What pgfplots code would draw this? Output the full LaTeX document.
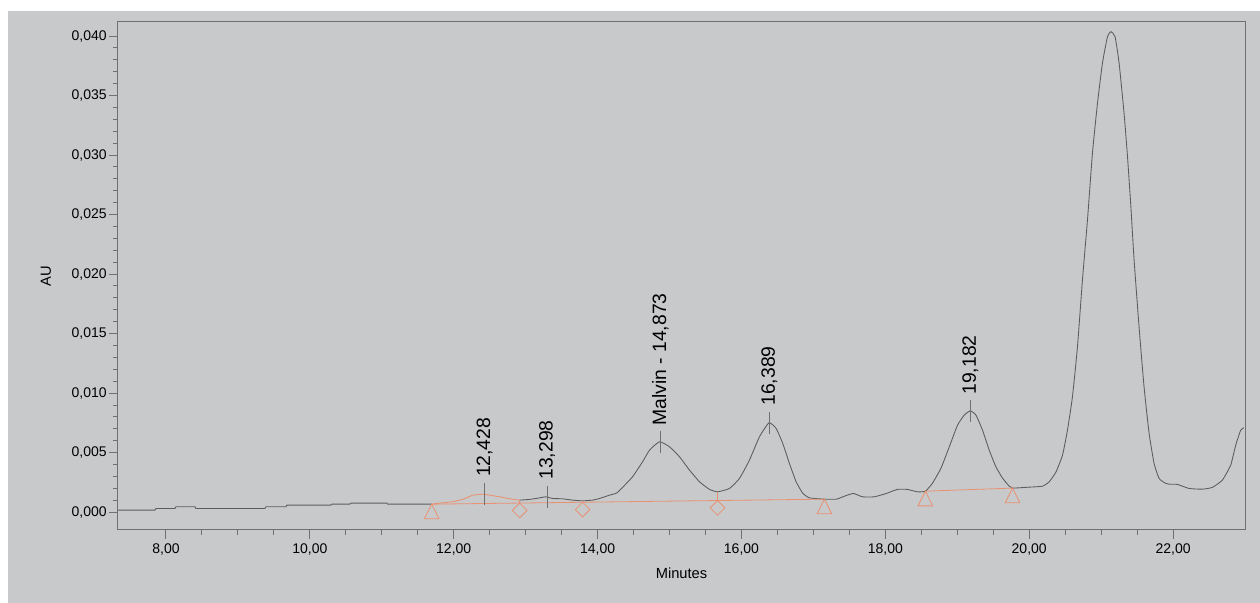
\documentclass[border=0pt]{standalone}
\usepackage{fontspec}
\setmainfont{Liberation Sans}
\usepackage{pgfplots}
\usepackage{pgfplotstable}
\pgfplotsset{compat=1.18}
\definecolor{bg}{RGB}{200,201,203}
\definecolor{curve}{RGB}{92,92,92}
\definecolor{frame}{RGB}{112,112,112}
\definecolor{orng}{RGB}{232,145,115}

\pgfdeclareplotmark{tridown}{%
  \pgfpathmoveto{\pgfqpoint{0pt}{0pt}}%
  \pgfpathlineto{\pgfqpoint{-5.5pt}{-11pt}}%
  \pgfpathlineto{\pgfqpoint{5.5pt}{-11pt}}%
  \pgfpathclose
  \pgfusepathqstroke}
\pgfdeclareplotmark{diadown}{%
  \pgfpathmoveto{\pgfqpoint{0pt}{0pt}}%
  \pgfpathlineto{\pgfqpoint{-5.5pt}{-5.5pt}}%
  \pgfpathlineto{\pgfqpoint{0pt}{-11pt}}%
  \pgfpathlineto{\pgfqpoint{5.5pt}{-5.5pt}}%
  \pgfpathclose
  \pgfusepathqstroke}

\pgfplotstableread{
x y
7.333 0.00017
7.847 0.00017
7.861 0.00031
8.125 0.00031
8.139 0.00045
8.403 0.00045
8.417 0.00031
9.375 0.00031
9.389 0.00045
9.667 0.00045
9.681 0.00059
10.292 0.00059
10.306 0.00067
10.556 0.00067
10.569 0.00076
11.069 0.00076
11.083 0.00067
11.694 0.00067
}\curveA

\pgfplotstableread{
x y
11.694 0.00067
11.806 0.00076
11.903 0.00082
11.986 0.00087
12.125 0.00107
12.264 0.00143
12.403 0.00151
12.500 0.00143
12.639 0.00129
12.778 0.00112
12.917 0.00101
}\bump

\pgfplotstableread{
x y
12.917 0.00101
13.056 0.00107
13.194 0.00120
13.278 0.00129
13.375 0.00115
13.514 0.00112
13.653 0.00101
13.792 0.00095
13.931 0.00101
14.028 0.00115
14.167 0.00143
14.264 0.00160
14.347 0.00208
14.486 0.00297
14.625 0.00423
14.722 0.00521
14.861 0.00591
15.000 0.00549
15.139 0.00465
15.278 0.00353
15.417 0.00255
15.556 0.00191
15.667 0.00171
15.833 0.00199
15.972 0.00283
16.111 0.00437
16.250 0.00633
16.382 0.00750
16.482 0.00703
16.574 0.00577
16.667 0.00409
16.760 0.00255
16.851 0.00160
16.944 0.00120
17.153 0.00109
17.319 0.00109
17.431 0.00134
17.556 0.00157
17.681 0.00129
17.847 0.00129
18.014 0.00157
18.167 0.00191
18.306 0.00191
18.444 0.00171
18.556 0.00176
18.653 0.00241
18.774 0.00370
18.889 0.00549
19.004 0.00731
19.097 0.00815
19.181 0.00851
19.260 0.00815
19.351 0.00689
19.444 0.00521
19.537 0.00381
19.629 0.00286
19.722 0.00218
19.768 0.00202
20.000 0.00210
20.185 0.00218
20.278 0.00255
20.371 0.00336
20.463 0.00479
20.532 0.00689
20.601 0.00969
20.671 0.01389
20.740 0.01950
20.810 0.02454
20.879 0.03014
20.949 0.03434
21.018 0.03771
21.088 0.03994
21.135 0.04036
21.194 0.03994
21.250 0.03771
21.319 0.03350
21.365 0.03000
21.412 0.02580
21.458 0.02120
21.528 0.01550
21.597 0.01050
21.667 0.00661
21.736 0.00409
21.806 0.00283
21.899 0.00241
21.944 0.00235
22.060 0.00233
22.222 0.00199
22.407 0.00193
22.546 0.00208
22.685 0.00269
22.801 0.00395
22.871 0.00563
22.940 0.00689
22.986 0.00708
}\curveB

\begin{document}
\begin{tikzpicture}
\fill[white] (-88.5pt,-54.75pt) rectangle (856.5pt,397.5pt);
\fill[bg] (-82.5pt,-54.75pt) rectangle (856.5pt,389.25pt);
\path[use as bounding box] (-88.5pt,-54.75pt) rectangle (856.5pt,397.5pt);
\begin{axis}[
  scale only axis, width=845.25pt, height=381.2pt,
  at={(0pt,0pt)}, anchor=south west,
  xmin=7.333, xmax=23, ymin=-0.0015, ymax=0.0412,
  axis line style={draw=frame, line width=0.75pt},
  tick align=outside, tick pos=left,
  major tick length=6.75pt, minor tick length=3.5pt,
  every tick/.style={draw=frame, line width=0.75pt},
  xtick={8,10,12,14,16,18,20,22}, minor x tick num=3,
  ytick={0,0.005,0.01,0.015,0.02,0.025,0.03,0.035,0.04}, minor y tick num=4,
  scaled y ticks=false, scaled x ticks=false,
  ticklabel style={font=\fontsize{10.5}{12}\selectfont, text=black},
  xticklabel style={/pgf/number format/fixed, /pgf/number format/fixed zerofill,
     /pgf/number format/precision=2, /pgf/number format/use comma,
     /pgf/number format/assume math mode=true},
  yticklabel style={/pgf/number format/fixed, /pgf/number format/fixed zerofill,
     /pgf/number format/precision=3, /pgf/number format/use comma,
     /pgf/number format/assume math mode=true, inner xsep=1.5pt},
  xlabel={Minutes}, ylabel={AU},
  every axis x label/.style={at={([yshift=-32.25pt]axis description cs:0.5,0)}, anchor=center, font=\fontsize{11}{13}\selectfont},
  every axis y label/.style={at={([xshift=-54pt]axis description cs:0,0.5)}, anchor=center, rotate=90, font=\fontsize{11}{13}\selectfont},
]
\addplot[curve, line width=0.65pt, no marks] table[x=x,y=y] {\curveA};
\addplot[orng, line width=0.65pt, no marks] table[x=x,y=y] {\bump};
\addplot[curve, line width=0.65pt, no marks, smooth, tension=0.3] table[x=x,y=y] {\curveB};
% baselines
\addplot[orng, line width=0.6pt, no marks] coordinates {(11.694,0.00067) (17.153,0.00109)};
\addplot[orng, line width=0.6pt, no marks] coordinates {(18.556,0.00176) (19.768,0.00202)};
% drop lines
\addplot[orng, line width=0.6pt, no marks] coordinates {(12.917,0.00101) (12.917,0.00076)};
\addplot[orng, line width=0.6pt, no marks] coordinates {(13.792,0.00095) (13.792,0.00083)};
\addplot[orng, line width=0.6pt, no marks] coordinates {(15.667,0.00171) (15.667,0.00098)};
% markers
\addplot[only marks, mark=tridown, mark options={draw=orng, line width=0.6pt}] coordinates {(11.694,0.00067) (17.153,0.00109) (18.556,0.00176) (19.768,0.00202)};
\addplot[only marks, mark=diadown, mark options={draw=orng, line width=0.6pt}] coordinates {(12.917,0.00076) (13.792,0.00083) (15.667,0.00098)};
% peak ticks
\draw[frame, line width=0.6pt] (axis cs:12.428,0.00151) ++(0pt,-8.25pt) -- ++(0pt,16.5pt);
\draw[frame, line width=0.6pt] (axis cs:13.298,0.00129) ++(0pt,-8.25pt) -- ++(0pt,16.5pt);
\draw[frame, line width=0.6pt] (axis cs:14.873,0.00591) ++(0pt,-8.25pt) -- ++(0pt,16.5pt);
\draw[frame, line width=0.6pt] (axis cs:16.389,0.00750) ++(0pt,-8.25pt) -- ++(0pt,16.5pt);
\draw[frame, line width=0.6pt] (axis cs:19.182,0.00851) ++(0pt,-8.25pt) -- ++(0pt,16.5pt);
% peak labels
\node[rotate=90, anchor=west, inner sep=0pt, font=\fontsize{14.5}{16}\selectfont] at ([yshift=12.75pt]axis cs:12.428,0.00151) {12,428};
\node[rotate=90, anchor=west, inner sep=0pt, font=\fontsize{14.5}{16}\selectfont] at ([yshift=12.75pt]axis cs:13.298,0.00129) {13,298};
\node[rotate=90, anchor=west, inner sep=0pt, font=\fontsize{14.5}{16}\selectfont] at ([yshift=12pt]axis cs:14.873,0.00591) {Malvin - 14,873};
\node[rotate=90, anchor=west, inner sep=0pt, font=\fontsize{14.5}{16}\selectfont] at ([yshift=12.75pt]axis cs:16.389,0.00750) {16,389};
\node[rotate=90, anchor=west, inner sep=0pt, font=\fontsize{14.5}{16}\selectfont] at ([yshift=12pt]axis cs:19.182,0.00851) {19,182};
\end{axis}
\end{tikzpicture}
\end{document}
